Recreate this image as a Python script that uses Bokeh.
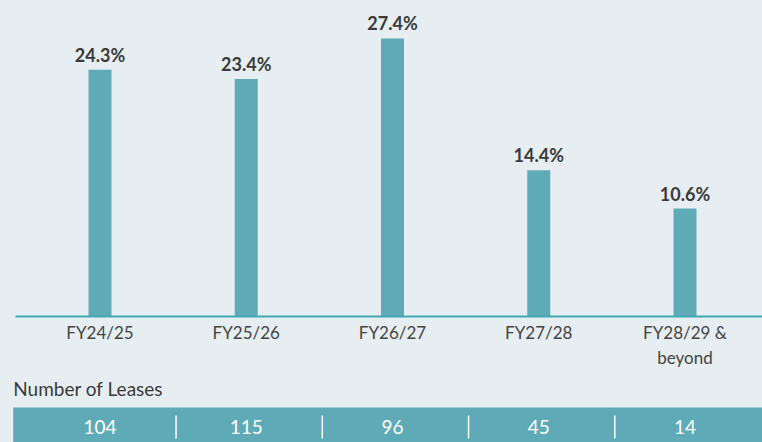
from bokeh.plotting import figure
from bokeh.models import (ColumnDataSource, LinearAxis, FixedTicker, Range1d, Label)
from bokeh.core.properties import value
from bokeh.embed import file_html
from bokeh.resources import INLINE

# ---- data ----
categories = ["FY24/25", "FY25/26", "FY26/27", "FY27/28", "FY28/29 &\nbeyond"]
expiry_pct = [24.3, 23.4, 27.4, 14.4, 10.6]
pct_labels = ["24.3%", "23.4%", "27.4%", "14.4%", "10.6%"]
num_leases = [104, 115, 96, 45, 14]
table_title = "Number of Leases"

# ---- style ----
BG = "#e6eef1"
BAR = "#5eabb7"
AXIS = "#3fa9b5"
DARK = "#3a3a3a"
FONT = "Lato"

W, H = 762, 442
# layout in pixels (figure coordinates)
first_px, step_px = 99.5, 146.25
base_px, px_per_unit = 315.5, 10.13

x_start = -first_px / step_px
x_end = x_start + W / step_px
y_end = base_px / px_per_unit
y_start = -(H - base_px) / px_per_unit


def px_x(fx):
    return x_start + fx / step_px


def px_y(fy):
    return (base_px - fy) / px_per_unit


idx = list(range(len(categories)))

p = figure(width=W, height=H, output_backend="svg", toolbar_location=None,
           x_range=Range1d(x_start, x_end), y_range=Range1d(y_start, y_end),
           x_axis_type=None, y_axis_type=None,
           min_border=0, min_border_left=0, min_border_right=0,
           min_border_top=0, min_border_bottom=0)
p.background_fill_color = BG
p.border_fill_color = BG
p.outline_line_color = None
p.xgrid.visible = False
p.ygrid.visible = False

src = ColumnDataSource(dict(x=idx, top=expiry_pct, lab=pct_labels,
                            n=[str(v) for v in num_leases]))

# band for table
p.quad(left=px_x(12.7), right=px_x(W + 5), top=px_y(407), bottom=px_y(H + 10),
       fill_color=BAR, line_color=None)

# bars
p.vbar(x="x", top="top", bottom=0, width=23 / step_px, source=src,
       fill_color=BAR, line_color=None)

# value labels
p.text(x="x", y="top", text="lab", source=src, y_offset=-15,
       text_align="center", text_baseline="alphabetic",
       text_font=value(FONT), text_font_size="18px", text_font_style="bold",
       text_color=DARK)

# x axis on baseline
ax = LinearAxis(fixed_location=0, ticker=FixedTicker(ticks=idx),
                major_label_overrides={i: c for i, c in zip(idx, categories)},
                bounds=(px_x(15), x_end + 1))
ax.axis_line_color = AXIS
ax.axis_line_width = 1.8
ax.major_tick_line_color = None
ax.minor_tick_line_color = None
ax.major_label_standoff = 0
ax.major_label_text_font = FONT
ax.major_label_text_font_size = "17px"
ax.major_label_text_color = "#444444"
p.add_layout(ax, "below")

# table title
p.add_layout(Label(x=px_x(12.7), y=px_y(388), text=table_title,
                   text_font=FONT, text_font_size="19px", text_color=DARK,
                   text_baseline="alphabetic"))

# separators
seps = [i + 0.52 for i in idx[:-1]]
p.segment(x0=seps, x1=seps, y0=[px_y(415)] * len(seps), y1=[px_y(438)] * len(seps),
          line_color="white", line_width=1.5)

# numbers
p.text(x="x", y=px_y(426), text="n", source=src,
       text_align="center", text_baseline="middle",
       text_font=value(FONT), text_font_size="19px", text_color="white")

html = file_html(p, INLINE)
html = html.replace("<head>", "<head><style>html,body{background:%s;}</style>" % BG, 1)
open("out.html", "w").write(html)
